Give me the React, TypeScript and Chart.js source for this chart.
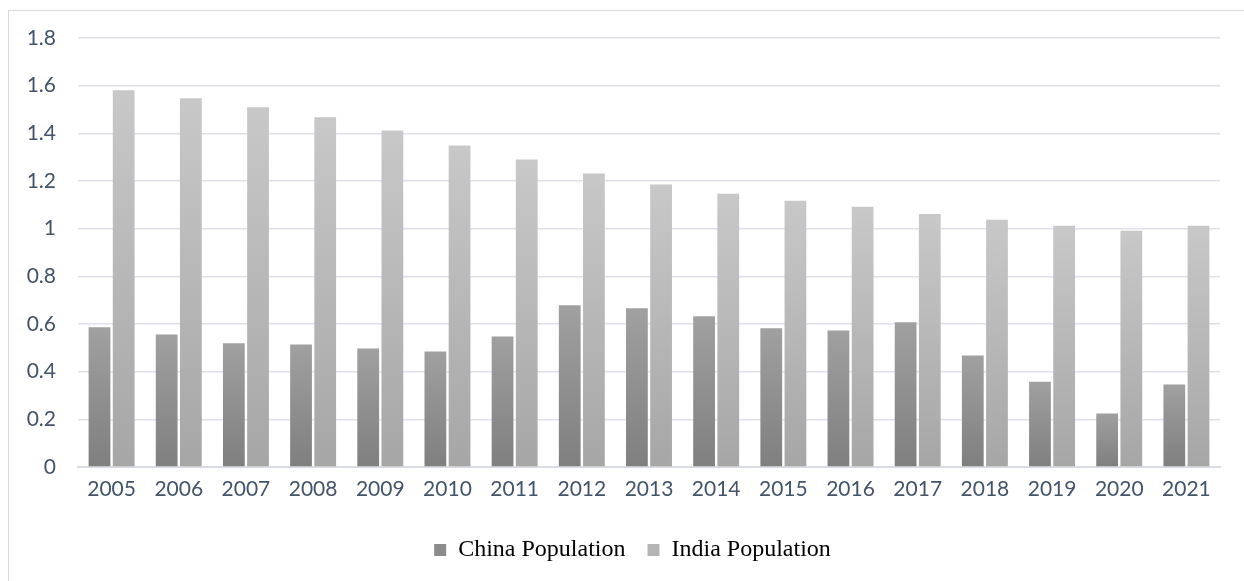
import React, { useEffect, useRef } from "react";
import { Chart, registerables } from "chart.js";

Chart.register(...registerables);

const years = ["2005", "2006", "2007", "2008", "2009", "2010", "2011", "2012", "2013", "2014", "2015", "2016", "2017", "2018", "2019", "2020", "2021"];
const chinaPopulation = [0.586, 0.556, 0.519, 0.514, 0.497, 0.485, 0.548, 0.679, 0.666, 0.632, 0.582, 0.573, 0.607, 0.468, 0.358, 0.225, 0.346];
const indiaPopulation = [1.581, 1.547, 1.509, 1.467, 1.412, 1.349, 1.29, 1.231, 1.185, 1.147, 1.117, 1.092, 1.062, 1.037, 1.012, 0.991, 1.012];
const yTicks = [0, 0.2, 0.4, 0.6, 0.8, 1, 1.2, 1.4, 1.6, 1.8];

const chinaColors = { top: "#a0a0a0", bottom: "#7f7f7f", flat: "#8c8c8c" };
const indiaColors = { top: "#c8c8c8", bottom: "#a6a6a6", flat: "#b4b4b4" };

function barGradient(colors: { top: string; bottom: string; flat: string }) {
  return (ctx: any) => {
    const chart = ctx.chart;
    if (ctx.type !== "data" || !chart.chartArea || !chart.scales.y) return colors.flat;
    const yScale = chart.scales.y;
    const v = ctx.raw as number;
    const yTop = yScale.getPixelForValue(v);
    const yBase = yScale.getPixelForValue(0);
    if (!isFinite(yTop) || !isFinite(yBase) || yTop === yBase) return colors.flat;
    const g = chart.ctx.createLinearGradient(0, yTop, 0, yBase);
    g.addColorStop(0, colors.top);
    g.addColorStop(1, colors.bottom);
    return g;
  };
}

const legendShift = {
  id: "legendShift",
  afterLayout(chart: any) {
    if (chart.legend) {
      chart.legend.left += 18;
      chart.legend.right += 18;
    }
  },
};

export default function App() {
  const canvasRef = useRef<HTMLCanvasElement | null>(null);

  useEffect(() => {
    if (!canvasRef.current) return;
    const chart = new Chart(canvasRef.current, {
      type: "bar",
      data: {
        labels: years,
        datasets: [
          {
            label: "China Population",
            data: chinaPopulation,
            backgroundColor: barGradient(chinaColors),
            borderWidth: 0,
          },
          {
            label: "India Population",
            data: indiaPopulation,
            backgroundColor: barGradient(indiaColors),
            borderWidth: 0,
          },
        ],
      },
      plugins: [legendShift],
      options: {
        animation: false,
        responsive: false,
        maintainAspectRatio: false,
        layout: { padding: { top: 27, right: 24, bottom: 19, left: 0 } },
        datasets: {
          bar: { categoryPercentage: 0.72, barPercentage: 0.9 },
        },
        scales: {
          x: {
            grid: { display: false, drawTicks: false },
            border: { display: true, color: "#d9dce3", width: 2 },
            ticks: {
              color: "#44546a",
              font: { family: "Lato, 'Open Sans', sans-serif", size: 21 },
              padding: 10,
              maxRotation: 0,
              autoSkip: false,
            },
            afterFit: (scale: any) => {
              scale.height = 49;
            },
          },
          y: {
            min: 0,
            max: 1.8,
            afterBuildTicks: (scale: any) => {
              scale.ticks = yTicks.map((v) => ({ value: v }));
            },
            grid: { color: "#dfe2e8", lineWidth: 1.5, drawTicks: false },
            border: { display: false },
            ticks: {
              color: "#44546a",
              font: { family: "Lato, 'Open Sans', sans-serif", size: 21 },
              padding: 22,
              callback: (v: any) => String(Math.round(Number(v) * 10) / 10),
            },
            afterFit: (scale: any) => {
              scale.width = 69;
              scale.paddingTop = 0;
              scale.paddingBottom = 0;
            },
          },
        },
        plugins: {
          tooltip: { enabled: false },
          legend: {
            position: "bottom",
            labels: {
              color: "#000000",
              font: { family: "'Liberation Serif', 'Times New Roman', serif", size: 24 },
              boxWidth: 12,
              boxHeight: 12,
              padding: 22,
              generateLabels: (c: any) =>
                c.data.datasets.map((ds: any, i: number) => ({
                  text: ds.label,
                  fillStyle: i === 0 ? chinaColors.flat : indiaColors.flat,
                  strokeStyle: "rgba(0,0,0,0)",
                  lineWidth: 0,
                  hidden: false,
                  datasetIndex: i,
                  fontColor: "#000000",
                })),
            },
          },
        },
      },
    });
    return () => chart.destroy();
  }, []);

  return (
    <div
      style={{
        position: "absolute",
        left: 8,
        top: 10,
        width: 1260,
        height: 620,
        border: "1px solid #d9d9d9",
        boxSizing: "border-box",
        background: "#ffffff",
      }}
    >
      <canvas ref={canvasRef} width={1235} height={580} style={{ display: "block", width: 1235, height: 580 }} />
    </div>
  );
}
